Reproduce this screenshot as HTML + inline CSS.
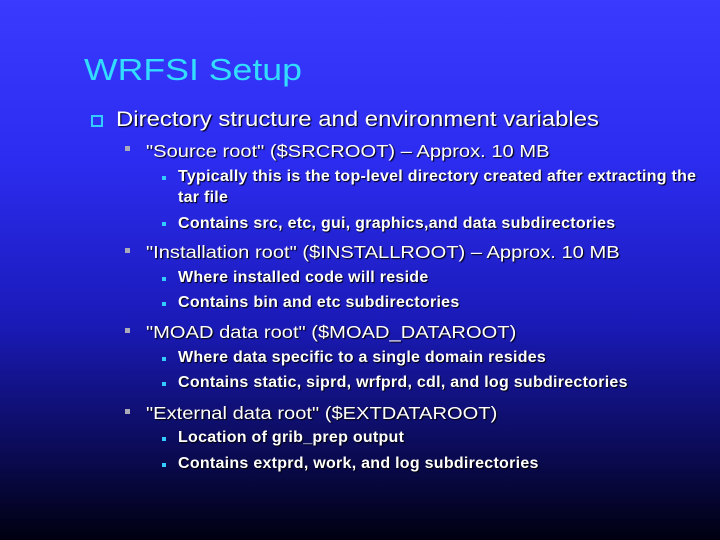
<!DOCTYPE html>
<html><head><style>
body{margin:0}
#s{position:relative;width:720px;height:540px;overflow:hidden;background:linear-gradient(to bottom,#3a3aff 0%,#2c2cf0 30%,#1a1ab8 60%,#0a0a50 85%,#000010 100%);font-family:"Liberation Sans",sans-serif;color:#fff}
.t{position:absolute;white-space:nowrap;text-shadow:1px 1px 1px #000;transform-origin:0 0}
.h{left:84px;top:52px;font-size:31px;color:#33ddff;transform:scaleX(1.15);text-shadow:none}
.l1{left:116px;top:108px;font-size:21px;transform:scaleX(1.14)}
.l2{left:146px;font-size:17.5px;transform:scaleX(1.15)}
.l3{left:178px;font-size:16px;font-weight:bold;letter-spacing:0.27px}
.b{position:absolute}
.b1{left:91px;width:8px;height:8px;border:2px solid #33ccff}
.b2{width:5px;height:5px;background:#aab;left:125px}
.b3{width:4px;height:4px;background:#33ccff;left:162px}
</style></head><body><div id="s">
<div class="t h">WRFSI Setup</div>
<div class="b b1" style="top:115px"></div>
<div class="t l1">Directory structure and environment variables</div>
<div class="b b2" style="top:146px"></div>
<div class="t l2" style="top:141px">"Source root" ($SRCROOT) – Approx. 10 MB</div>
<div class="b b3" style="top:176px"></div>
<div class="t l3" style="top:168px">Typically this is the top-level directory created after extracting the</div>
<div class="t l3" style="top:189px">tar file</div>
<div class="b b3" style="top:222px"></div>
<div class="t l3" style="top:215px">Contains src, etc, gui, graphics,and data subdirectories</div>
<div class="b b2" style="top:248px"></div>
<div class="t l2" style="top:242px">"Installation root" ($INSTALLROOT) – Approx. 10 MB</div>
<div class="b b3" style="top:277px"></div>
<div class="t l3" style="top:269px">Where installed code will reside</div>
<div class="b b3" style="top:302px"></div>
<div class="t l3" style="top:294px">Contains bin and etc subdirectories</div>
<div class="b b2" style="top:328px"></div>
<div class="t l2" style="top:322px">"MOAD data root" ($MOAD_DATAROOT)</div>
<div class="b b3" style="top:357px"></div>
<div class="t l3" style="top:349px">Where data specific to a single domain resides</div>
<div class="b b3" style="top:382px"></div>
<div class="t l3" style="top:374px">Contains static, siprd, wrfprd, cdl, and log subdirectories</div>
<div class="b b2" style="top:409px"></div>
<div class="t l2" style="top:403px">"External data root" ($EXTDATAROOT)</div>
<div class="b b3" style="top:437px"></div>
<div class="t l3" style="top:429px">Location of grib_prep output</div>
<div class="b b3" style="top:463px"></div>
<div class="t l3" style="top:455px">Contains extprd, work, and log subdirectories</div>
</div></body></html>
